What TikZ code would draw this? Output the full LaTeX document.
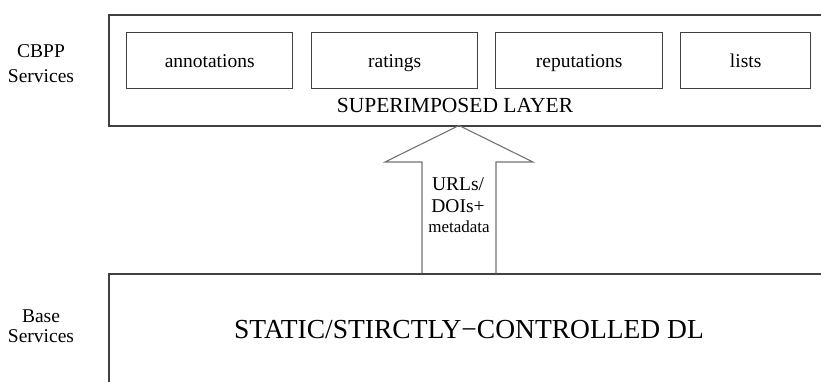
\documentclass[tikz,border=0pt]{standalone}
\usepackage{fontspec}
\setmainfont{Liberation Serif}
\begin{document}
\begin{tikzpicture}[x=1pt,y=-1pt,
  layerbox/.style={draw=black!75, line width=1.6pt, anchor=north west, inner sep=0pt},
  svcbox/.style={draw=black!75, line width=1.4pt, anchor=north west, inner sep=0pt, minimum height=56pt},
  svctext/.style={anchor=base, inner sep=0pt, font=\fontsize{19.5}{20}\selectfont},
  sidetext/.style={anchor=base, inner sep=0pt, font=\fontsize{19.5}{20}\selectfont},
  arrowtext/.style={anchor=base, inner sep=0pt, font=\fontsize{19.5}{20}\selectfont},
  arrowline/.style={draw=black!55, line width=1.1pt, line join=miter}
]
\useasboundingbox (0,0) rectangle (821,381);
\clip (0,0) rectangle (821,381);
% top layer
\node[layerbox, minimum width=730pt, minimum height=111pt] (top) at (108,14) {};
\node[svcbox, minimum width=166pt] (ann) at (126,32) {};
\node[svctext] (annt) at ([yshift=-6.5pt]ann.center) {annotations};
\node[svcbox, minimum width=166pt] (rat) at (311,32) {};
\node[svctext] (ratt) at ([yshift=-6.5pt]rat.center) {ratings};
\node[svcbox, minimum width=167pt] (rep) at (495,32) {};
\node[svctext] (rept) at ([yshift=-6.5pt]rep.center) {reputations};
\node[svcbox, minimum width=130pt] (lst) at (680,32) {};
\node[svctext] (lstt) at ([yshift=-6.5pt]lst.center) {lists};
\node[anchor=base, inner sep=0pt, font=\fontsize{21.5}{22}\selectfont] (sup) at (455,112) {SUPERIMPOSED LAYER};
% bottom layer
\node[layerbox, minimum width=730pt, minimum height=140pt] (bot) at (108,273) {};
\node[anchor=base, inner sep=0pt, font=\fontsize{27.5}{28}\selectfont] (dl) at (469,338) {STATIC/STIRCTLY−CONTROLLED DL};
% side labels
\node[sidetext] (cbpp1) at (41,57) {CBPP};
\node[sidetext] (cbpp2) at (41,82) {Services};
\node[sidetext] (base1) at (41,322) {Base};
\node[sidetext] (base2) at (41,342) {Services};
% big arrow
\coordinate (tip) at (459,125.5);
\coordinate (bl) at (422,273);
\coordinate (br) at (496,273);
\draw[arrowline] (bl) -- (422,162) -- (385,162) -- (tip) -- (533,162) -- (496,162) -- (br);
\node[arrowtext] (l1) at (458,190) {URLs/};
\node[arrowtext] (l2) at (458,212) {DOIs+};
\node[arrowtext, font=\fontsize{17}{18}\selectfont] (l3) at (459,232) {metadata};
\end{tikzpicture}
\end{document}
